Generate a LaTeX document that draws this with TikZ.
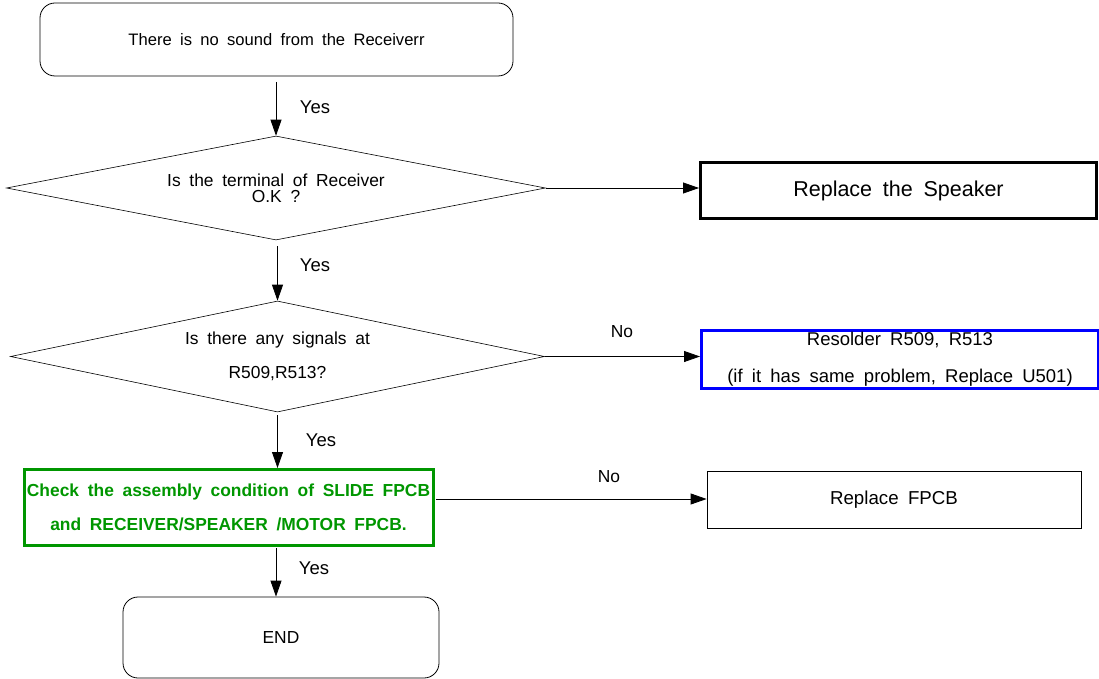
\documentclass[tikz,border=0pt]{standalone}
\usepackage{fontspec}
\setmainfont{Liberation Sans}
\usetikzlibrary{shapes.geometric,arrows.meta}
\definecolor{fgreen}{RGB}{0,150,0}
\definecolor{fblue}{RGB}{0,0,255}
\newcommand{\wsp}{\spaceskip=0.5em plus 0.1em minus 0.05em\relax}
\newcommand{\fsz}[1]{\fontsize{#1}{20}\selectfont\wsp}
\begin{document}
\begin{tikzpicture}[x=1pt,y=-1pt,
  every node/.style={font=\fsz{17.4}},
  term/.style={draw,rounded corners=15pt,line width=0.8pt,inner sep=0pt},
  dec/.style={draw,diamond,inner sep=0pt,line width=0.6pt,align=center},
  proc/.style={draw,inner sep=0pt,align=center},
  arr/.style={-{Triangle[length=16pt,width=11pt]},line width=0.8pt},
  lbl/.style={inner sep=0pt,font=\fsz{18.5}}]
\useasboundingbox (0,0) rectangle (1099,679);
\node[term,minimum width=473pt,minimum height=73pt,font=\fsz{16.6}] (start) at (276.5,39.5) {There is no sound from the Receiverr};
\node[dec,shape aspect=5.18,minimum width=539pt,minimum height=104pt] (d1) at (276,188) {Is the terminal of Receiver\\[-4pt]O.K ?};
\node[proc,line width=3pt,minimum width=396pt,minimum height=56pt,font=\fsz{21.5}] (spk) at (898.5,190.5) {Replace the Speaker};
\node[dec,shape aspect=4.81,minimum width=534pt,minimum height=111pt] (d2) at (277.5,356.5) {Is there any signals at\\[14pt]R509,R513?};
\node[proc,draw=fblue,line width=3pt,minimum width=397pt,minimum height=58pt,font=\fsz{18.5}] (res) at (900,359.5) {Resolder R509, R513\\[17pt](if it has same problem, Replace U501)};
\node[proc,draw=fgreen,line width=3pt,minimum width=409pt,minimum height=76pt,text=fgreen,font=\bfseries\fsz{17.4}] (chk) at (228.5,507.5) {Check the assembly condition of SLIDE FPCB\\[14pt]and RECEIVER/SPEAKER /MOTOR FPCB.};
\node[proc,line width=0.8pt,minimum width=374pt,minimum height=57pt,font=\fsz{18.7}] (fpcb) at (894,499.5) {Replace FPCB};
\node[term,minimum width=316pt,minimum height=81pt] (end) at (281,637.5) {END};
\coordinate (a1s) at (276,82);
\coordinate (a2s) at (277.5,246);
\coordinate (a3s) at (277.5,415);
\coordinate (a4s) at (276,548);
\coordinate (c5) at (436,499);
\draw[arr] (a1s) -- (d1.north);
\draw[arr] (a2s) -- (d2.north);
\draw[arr] (a3s) -- (a3s |- chk.north);
\draw[arr] (a4s) -- (a4s |- end.north);
\draw[arr] (d1.east) -- (d1.east -| spk.west);
\draw[arr] (d2.east) -- (d2.east -| res.west);
\draw[arr] (c5) -- (c5 -| fpcb.west);
\node[lbl] (y1) at (315,107) {Yes};
\node[lbl] (y2) at (315,265) {Yes};
\node[lbl] (y3) at (321,440) {Yes};
\node[lbl] (y4) at (314,568) {Yes};
\node[lbl,font=\fsz{17.4}] (n1) at (622,332) {No};
\node[lbl,font=\fsz{17.4}] (n2) at (609,477) {No};
\end{tikzpicture}
\end{document}
